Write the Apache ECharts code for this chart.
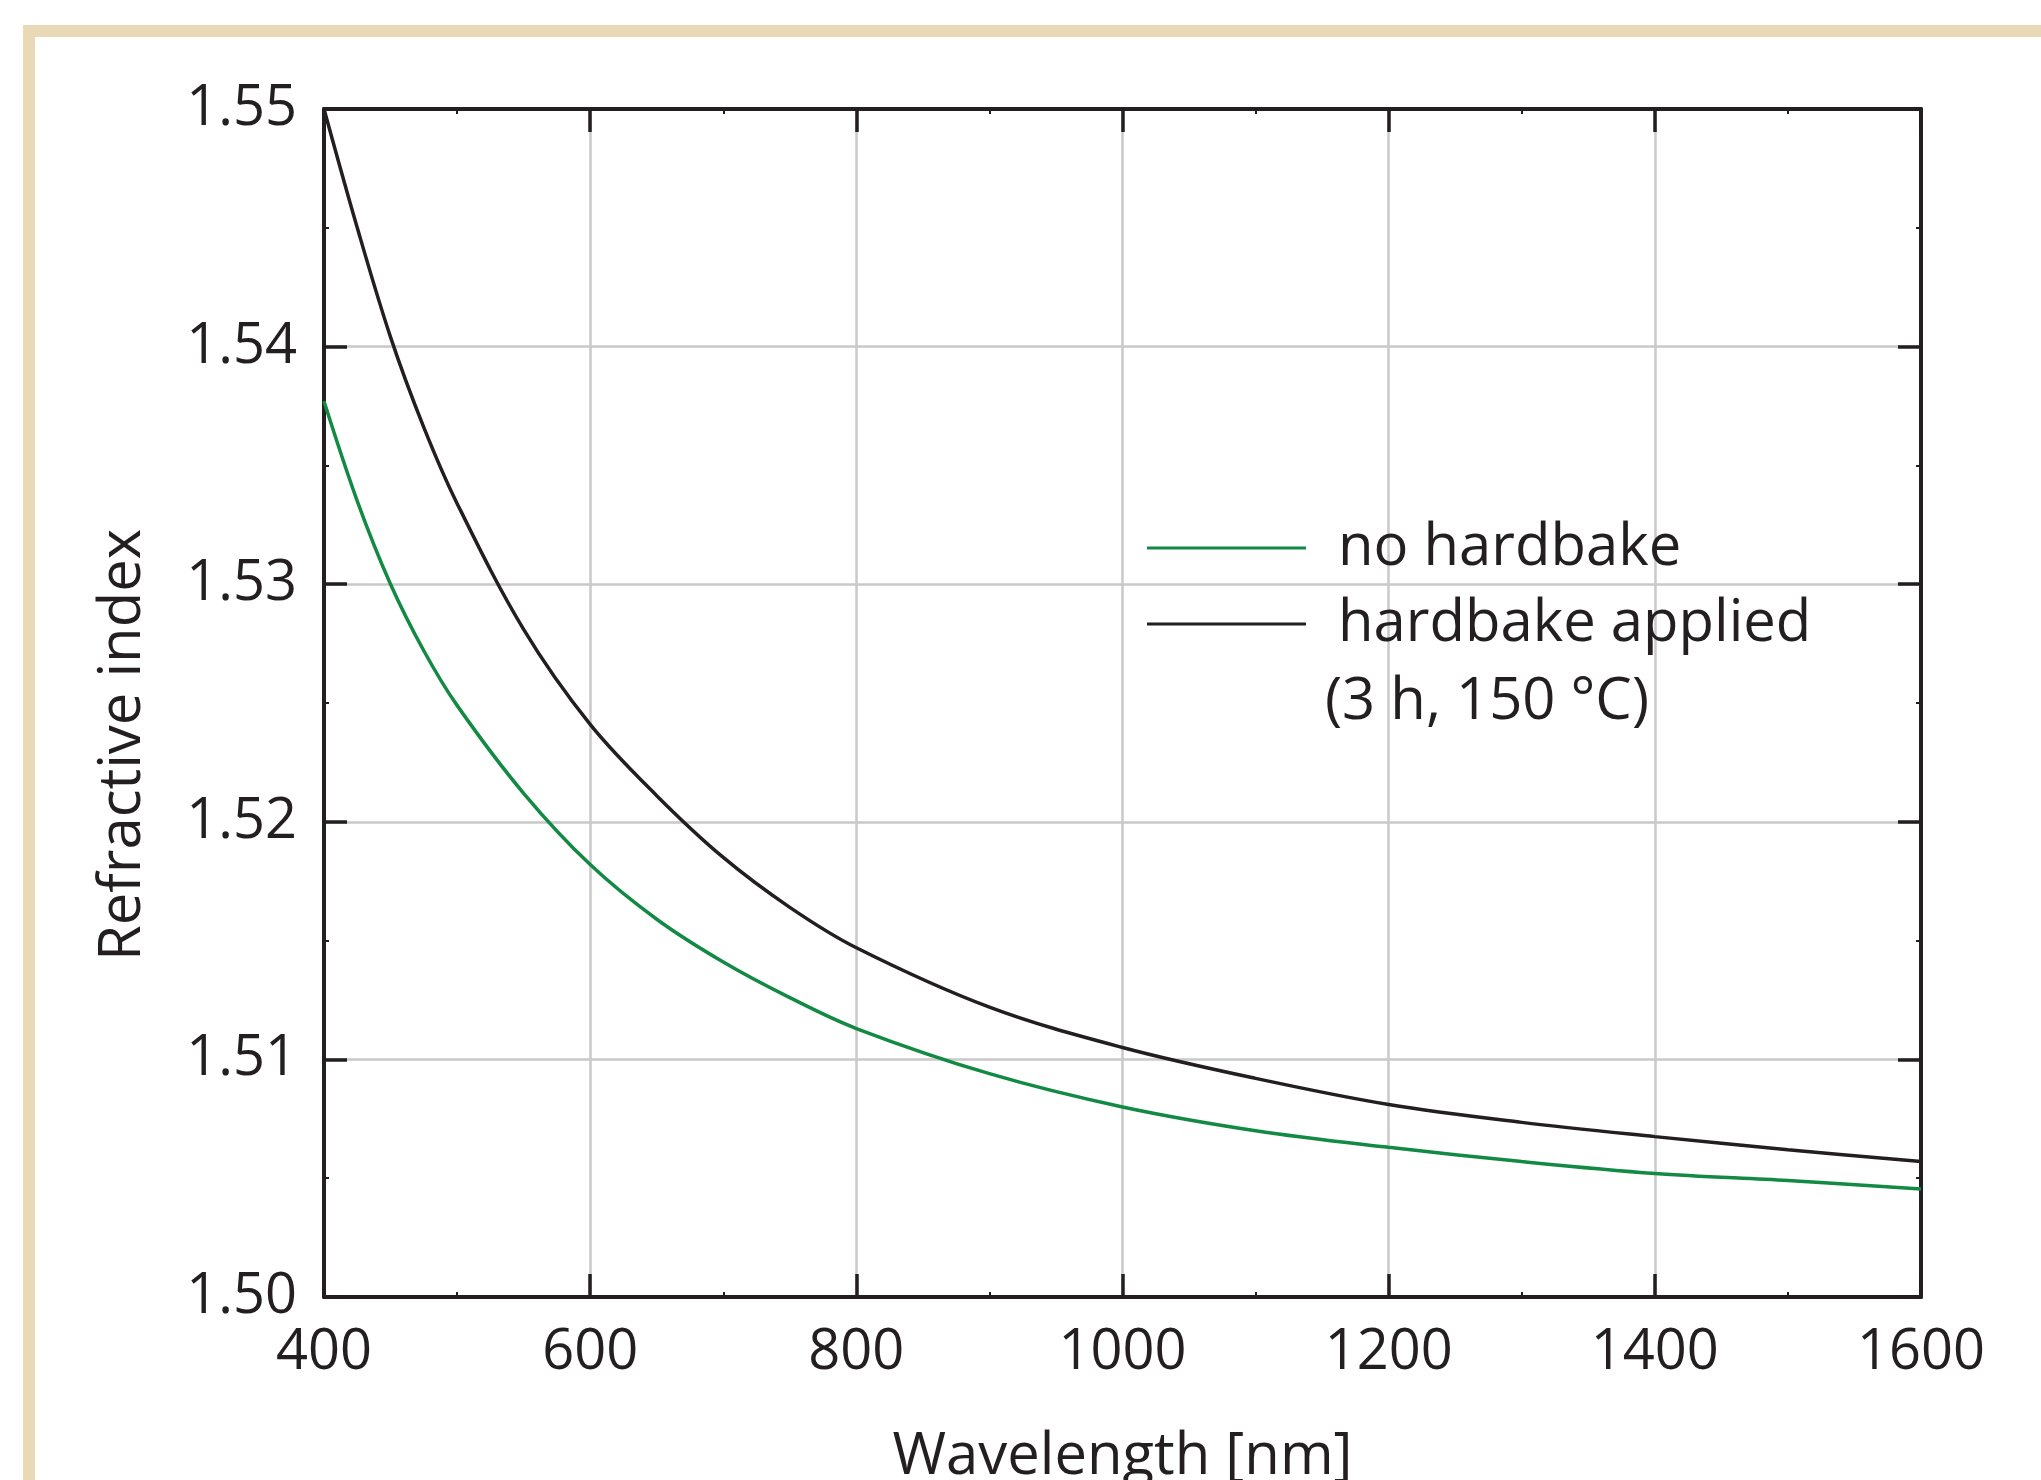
<!DOCTYPE html>
<html>
<head>
<meta charset="utf-8">
<script src="https://cdn.jsdelivr.net/npm/echarts@6/dist/echarts.min.js"></script>
<style>
html,body{margin:0;padding:0;background:#ffffff;}
#chart{width:2041px;height:1480px;}
</style>
</head>
<body>
<div id="chart"></div>
<script>
// Data
var wavelengths = [400, 425, 450, 475, 500, 550, 600, 650, 700, 750, 800, 900, 1000, 1100, 1200, 1300, 1400, 1500, 1600];
var noHardbake = [1.5377, 1.5335, 1.5300, 1.5272, 1.5249, 1.5212, 1.5182, 1.5159, 1.5141, 1.5126, 1.5113, 1.5094, 1.5080, 1.5070, 1.5063, 1.5057, 1.5052, 1.5049, 1.50455];
var hardbakeApplied = [1.5500, 1.5450, 1.5404, 1.5366, 1.5334, 1.5281, 1.5241, 1.5211, 1.5185, 1.5164, 1.5147, 1.5122, 1.5105, 1.5092, 1.5081, 1.50735, 1.50675, 1.5062, 1.5057];
var seriesNames = ['no hardbake', 'hardbake applied'];
var legendExtraLine = '(3 h, 150 °C)';
var xTicks = {min: 400, max: 1600, interval: 200};
var yTicks = {min: 1.50, max: 1.55, interval: 0.01};
var xTitle = 'Wavelength [nm]';
var yTitle = 'Refractive index';

function pairs(xs, ys) { return xs.map(function (x, i) { return [x, ys[i]]; }); }

var FONT = '"Open Sans", "Noto Sans", sans-serif';
var INK = '#231f20';
var GREEN = '#138a43';

var chart = echarts.init(document.getElementById('chart'), null, {renderer: 'canvas'});

var baseAxisLine = {show: true, lineStyle: {color: INK, width: 4}};
var majorTick = {show: true, inside: true, length: 23, lineStyle: {color: INK, width: 3.5}};
var minorTick = {show: true, splitNumber: 2, length: 5, lineStyle: {color: INK, width: 2}};

chart.setOption({
  backgroundColor: '#ffffff',
  animation: false,
  graphic: [
    {type: 'rect', silent: true, z: -10,
     shape: {x: 29, y: 31, width: 3000, height: 3000},
     style: {fill: 'none', stroke: '#ead9b6', lineWidth: 12}},
    {type: 'text', left: 1325, top: 673, z: 10,
     style: {text: legendExtraLine, font: '58px ' + FONT, fill: INK}}
  ],
  grid: {left: 324, top: 109, width: 1597, height: 1188, containLabel: false, outerBoundsMode: 'none', show: false},
  legend: {
    orient: 'vertical', left: 1147, top: 510, padding: 0, itemGap: 0,
    icon: 'rect', itemWidth: 159, itemHeight: 3,
    data: seriesNames,
    textStyle: {fontFamily: FONT, fontSize: 58, color: INK, lineHeight: 76, padding: [0, 0, 0, 27]}
  },
  xAxis: [
    {type: 'value', position: 'bottom', min: xTicks.min, max: xTicks.max, interval: xTicks.interval,
     name: xTitle, nameLocation: 'middle', nameGap: 131,
     nameTextStyle: {fontFamily: FONT, fontSize: 58, color: INK},
     axisLine: baseAxisLine, axisTick: majorTick, minorTick: minorTick,
     axisLabel: {fontFamily: FONT, fontSize: 56, color: INK, margin: 28,
                 formatter: function (v) { return String(v); }},
     splitLine: {show: true, lineStyle: {color: '#c9c9c9', width: 2.5}}},
    {type: 'value', position: 'top', min: xTicks.min, max: xTicks.max, interval: xTicks.interval,
     axisLine: baseAxisLine, axisTick: majorTick, minorTick: minorTick,
     axisLabel: {show: false}, splitLine: {show: false}}
  ],
  yAxis: [
    {type: 'value', position: 'left', min: yTicks.min, max: yTicks.max, interval: yTicks.interval,
     name: yTitle, nameLocation: 'middle', nameGap: 172,
     nameTextStyle: {fontFamily: FONT, fontSize: 58, color: INK, padding: [0, 84, 0, 0]},
     axisLine: baseAxisLine, axisTick: majorTick, minorTick: minorTick,
     axisLabel: {fontFamily: FONT, fontSize: 56, color: INK, margin: 27,
                 formatter: function (v) { return v.toFixed(2); }},
     splitLine: {show: true, lineStyle: {color: '#c9c9c9', width: 2.5}}},
    {type: 'value', position: 'right', min: yTicks.min, max: yTicks.max, interval: yTicks.interval,
     axisLine: baseAxisLine, axisTick: majorTick, minorTick: minorTick,
     axisLabel: {show: false}, splitLine: {show: false}}
  ],
  series: [
    {name: seriesNames[0], type: 'line', xAxisIndex: 0, yAxisIndex: 0, data: pairs(wavelengths, noHardbake),
     smooth: 0.35, symbol: 'none', lineStyle: {color: GREEN, width: 3.5}, itemStyle: {color: GREEN}, z: 5},
    {name: seriesNames[1], type: 'line', xAxisIndex: 0, yAxisIndex: 0, data: pairs(wavelengths, hardbakeApplied),
     smooth: 0.35, symbol: 'none', lineStyle: {color: INK, width: 3.5}, itemStyle: {color: INK}, z: 5}
  ]
});
</script>
</body>
</html>
